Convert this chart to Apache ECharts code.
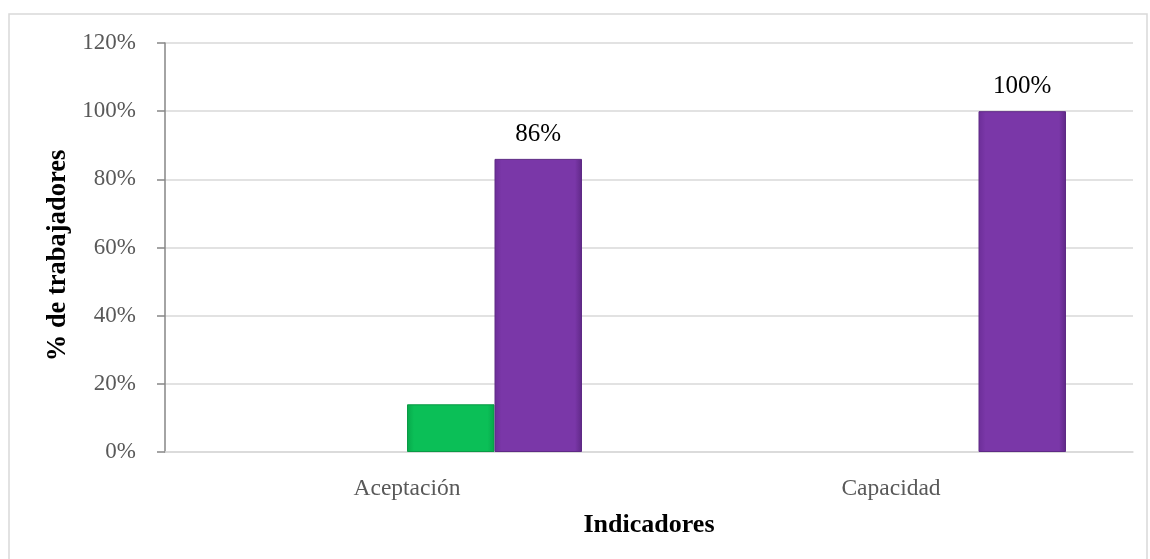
<!DOCTYPE html>
<html>
<head>
<meta charset="utf-8">
<script src="https://cdn.jsdelivr.net/npm/echarts@6/dist/echarts.min.js"></script>
<style>
html,body{margin:0;padding:0;background:#fff;}
#chart{width:1150px;height:559px;}
</style>
</head>
<body>
<div id="chart"></div>
<script>
var categories = ['Aceptación', 'Capacidad'];
var serie1 = [null, null];
var serie2 = [null, null];
var serieVerde = [0.14, null];
var serieMorada = [0.86, 1.00];
var yTicks = [0, 0.2, 0.4, 0.6, 0.8, 1.0, 1.2];

var font = 'Liberation Serif, Times New Roman, serif';
var chart = echarts.init(document.getElementById('chart'));
function pct(v){ return Math.round(v*100) + '%'; }

chart.setOption({
  animation: false,
  graphic: [{
    type: 'rect', shape: {x: 9, y: 14, width: 1138, height: 560},
    style: {fill: 'none', stroke: '#D9D9D9', lineWidth: 1.5}, z: -1
  }],
  grid: {left: 165, right: 17, top: 43, bottom: 107},
  xAxis: {
    type: 'category', data: categories,
    name: 'Indicadores', nameLocation: 'middle', nameGap: 60,
    nameTextStyle: {fontFamily: font, fontWeight: 'bold', fontSize: 26, color: '#000'},
    axisLine: {lineStyle: {color: '#D9D9D9', width: 1.5}},
    axisTick: {show: false},
    axisLabel: {fontFamily: font, fontSize: 23.5, color: '#595959', margin: 25}
  },
  yAxis: {
    type: 'value', min: 0, max: 1.2, interval: 0.2,
    name: '% de trabajadores', nameLocation: 'middle', nameGap: 87,
    nameTextStyle: {fontFamily: font, fontWeight: 'bold', fontSize: 26.5, color: '#000', padding: [0, 16, 0, 0]},
    axisLine: {show: true, lineStyle: {color: '#868686', width: 1.5}},
    axisTick: {show: true, length: 8, lineStyle: {color: '#868686', width: 1.5}},
    splitLine: {lineStyle: {color: '#D9D9D9', width: 1.5}},
    axisLabel: {fontFamily: font, fontSize: 23, color: '#595959', margin: 29,
      formatter: function(v){ return yTicks.indexOf(Math.round(v*10)/10) >= 0 ? pct(v) : ''; }}
  },
  series: [
    {name: 'S1', type: 'bar', data: serie1, barWidth: 87.5, barGap: '0%'},
    {name: 'S2', type: 'bar', data: serie2, barWidth: 87.5, barGap: '0%'},
    {name: 'S3', type: 'bar', data: serieVerde, barWidth: 87.5, barGap: '0%',
      itemStyle: {color: new echarts.graphic.LinearGradient(0,0,1,0,[
        {offset:0,color:'#07A84A'},{offset:0.08,color:'#0BBF57'},{offset:0.92,color:'#0BBF57'},{offset:1,color:'#07A84A'}]),
        borderColor: '#0A9A45', borderWidth: 1}},
    {name: 'S4', type: 'bar', data: serieMorada, barWidth: 87.5, barGap: '0%',
      itemStyle: {color: new echarts.graphic.LinearGradient(0,0,1,0,[
        {offset:0,color:'#6C2E98'},{offset:0.08,color:'#7A37A8'},{offset:0.92,color:'#7A37A8'},{offset:1,color:'#5F2886'}]),
        borderColor: '#5E2A85', borderWidth: 1},
      label: {show: true, position: 'top', distance: 12, fontFamily: font, fontSize: 25, color: '#000',
        formatter: function(p){ return pct(p.value); }}}
  ]
});
</script>
</body>
</html>
